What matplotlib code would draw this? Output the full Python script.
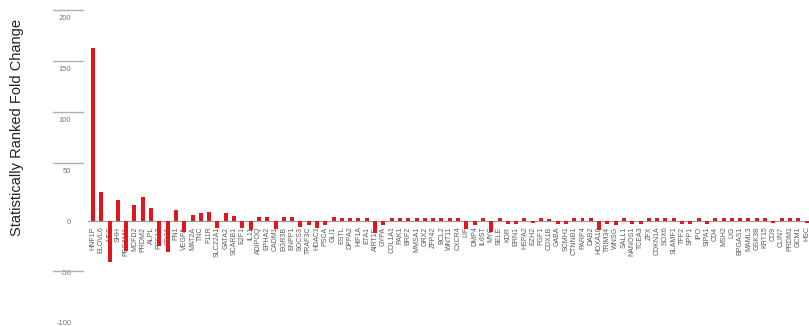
#!/usr/bin/env python3
"""Ranked fold change bar chart (recreation)."""

import matplotlib

matplotlib.use("Agg")
import matplotlib.pyplot as plt
import matplotlib.transforms as mtransforms

plt.rcParams["font.family"] = ["Liberation Sans", "DejaVu Sans"]

genes = [
    "HNF1P", "ELOVL6", "NES", "SHH", "PECAM1", "MCFD2", "PRDM2", "ALPL", "FGF13", "CD34",
    "FN1", "VEGFA", "MAT2A", "TNC", "F11R", "SLC22A1", "GATA2", "SCARB1", "E2F1", "IL11",
    "ADIPOQ", "EPHA2", "CADM1", "EGR3B", "ENPP1", "SOCS3", "TRAF3C", "HDAC1", "PSCA", "GLI1",
    "ESTL", "DPPA2", "HIF1A", "ETA1", "AIRT1E", "GYPA", "COL1A1", "PAK1", "BRF2", "MMSA1",
    "GRX2", "ZFP42", "BCL2", "WNT11", "CXCR4", "LIF", "DMP4", "IL6ST", "MYC", "SELE",
    "KDR", "ERN1", "HSPA2", "EZH2", "FGF1", "CDX1B", "GABA", "SCMH1", "CTNNB1", "PARP4",
    "DAB2", "HOXA10", "TRIM34", "WNSG", "SALL1", "NANOS1", "TCEA3", "ZFX", "CDKN1A", "SOX6",
    "SLAMF1", "TFF2", "SPP1", "IPO", "SIPA1", "CD4", "MSH2", "LIG", "BPGAS1", "MAML3",
    "GSK3B", "KRT15", "CD9", "CLIN7", "PRDM1", "GCM1", "HSC",
]

fold_change = [
    170, 29, -40, 21, -29, 16, 24, 13, -24, -30,
    11, -11, 6, 7.5, 8.5, -7, 7.5, 5, -7, -9,
    4, 4, -8, 4, 4, -6, -4, -7, -4, 4,
    3.5, 3.5, 3.5, 3.5, -12, -4, 3, 3, 3, 3,
    3, 3, 3, 3, 3, -8, -4, 3, -11, 3,
    -3, -3, 3, -2, 3, 2, -3, -3, 3, 3,
    3, -9, -3, -4, 3, -3, -3, 3, 3, 3,
    3, -3, -3, 3, -3, 3, 3, 3, 3, 3,
    3, 3, -2, 3, 3, 3, -2,
]

y_ticks = [200, 150, 100, 50, 0, -50, -100]
stub_levels = [207, 157, 107, 57, -49]

fig = plt.figure(figsize=(8.09, 3.26), dpi=100)
ax = fig.add_axes([88 / 809, 0.0, 1 - 88 / 809, 1.0])

x = list(range(len(genes)))
ax.bar(x, fold_change, width=0.48, color="#e3161d", zorder=3)

ax.set_xlim(-0.6, 86.3)
ax.set_ylim(-103, 217)

for side in ("top", "right", "left"):
    ax.spines[side].set_visible(False)
ax.spines["bottom"].set_position(("data", 0))
ax.spines["bottom"].set_color("#9a9a9a")
ax.spines["bottom"].set_linewidth(0.8)

ax.set_xticks(x)
ax.set_xticklabels(genes, rotation=90, fontsize=5.0, color="#5a5a5a")
ax.tick_params(axis="x", length=0, pad=4)

ax.set_yticks(y_ticks)
ax.set_yticklabels([str(v) for v in y_ticks], fontsize=5.5, color="#777777")
ax.tick_params(axis="y", length=0, pad=12)

# short gray stubs left of the plot
trans = mtransforms.blended_transform_factory(ax.transAxes, ax.transData)
for lvl in stub_levels:
    ax.plot([-35 / 721, -5 / 721], [lvl, lvl], transform=trans, color="#b0b0b0",
            linewidth=1.0, clip_on=False)

fig.text(17 / 809, 1 - 128 / 326, "Statistically Ranked Fold Change", rotation=90,
         ha="center", va="center", fontsize=10.5, color="#222222")

fig.savefig("out.png", dpi=100)
plt.close(fig)
